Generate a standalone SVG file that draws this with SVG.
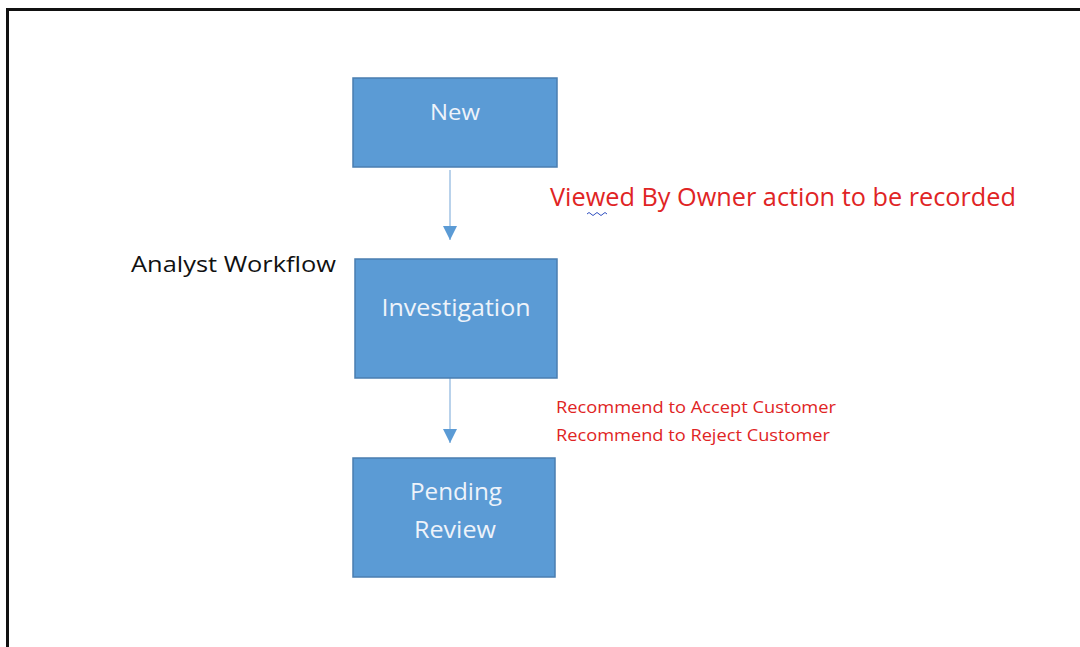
<svg xmlns="http://www.w3.org/2000/svg" width="1080" height="647" viewBox="0 0 1080 647">
<defs>
<style>
.box{fill:#5B9BD5;stroke:#4A7EB0;stroke-width:1.5}
.bt{font-family:"Open Sans","Liberation Sans",sans-serif;fill:#EEF3FA;text-anchor:middle}
.red{font-family:"Open Sans","Liberation Sans",sans-serif;fill:#E02424}
.conn{stroke:#8AB4DE;stroke-width:1.2;fill:none}
</style>
<marker id="ah" viewBox="0 0 10 10" refX="10" refY="5" markerWidth="14" markerHeight="14" markerUnits="userSpaceOnUse" orient="auto">
<path d="M0,0 L10,5 L0,10 z" fill="#5B9BD5"/>
</marker>
</defs>
<rect width="1080" height="647" fill="#fff"/>
<path d="M7.5,647 V9.5 H1080" fill="none" stroke="#111" stroke-width="3"/>
<g id="connectors">
<line class="conn" x1="450" y1="170" x2="450" y2="240" marker-end="url(#ah)"/>
<line class="conn" x1="450" y1="378" x2="450" y2="443" marker-end="url(#ah)"/>
</g>
<g id="new">
<rect class="box" x="353" y="78" width="204" height="89"/>
<text class="bt" x="455" y="120" font-size="21" textLength="50" lengthAdjust="spacingAndGlyphs">New</text>
</g>
<g id="investigation">
<rect class="box" x="355" y="259" width="202" height="119"/>
<text class="bt" x="456" y="316" font-size="23" textLength="149" lengthAdjust="spacingAndGlyphs">Investigation</text>
</g>
<g id="pending">
<rect class="box" x="353" y="458" width="202" height="119"/>
<text class="bt" x="456" y="500" font-size="23" textLength="92" lengthAdjust="spacingAndGlyphs">Pending</text>
<text class="bt" x="455" y="538" font-size="23" textLength="82" lengthAdjust="spacingAndGlyphs">Review</text>
</g>
<g id="labels">
<text x="131" y="272" font-family="Open Sans,Liberation Sans,sans-serif" font-size="22" fill="#111" textLength="205" lengthAdjust="spacingAndGlyphs">Analyst Workflow</text>
<text class="red" x="550" y="206" font-size="25" textLength="466" lengthAdjust="spacingAndGlyphs">Viewed By Owner action to be recorded</text>
<path d="M587,214 q2,-3 4,0 t4,0 t4,0 t4,0 t4,0" fill="none" stroke="#3050C0" stroke-width="1"/>
<text class="red" x="556" y="413" font-size="15.5" textLength="280" lengthAdjust="spacingAndGlyphs">Recommend to Accept Customer</text>
<text class="red" x="556" y="441" font-size="15.5" textLength="274" lengthAdjust="spacingAndGlyphs">Recommend to Reject Customer</text>
</g>
</svg>
